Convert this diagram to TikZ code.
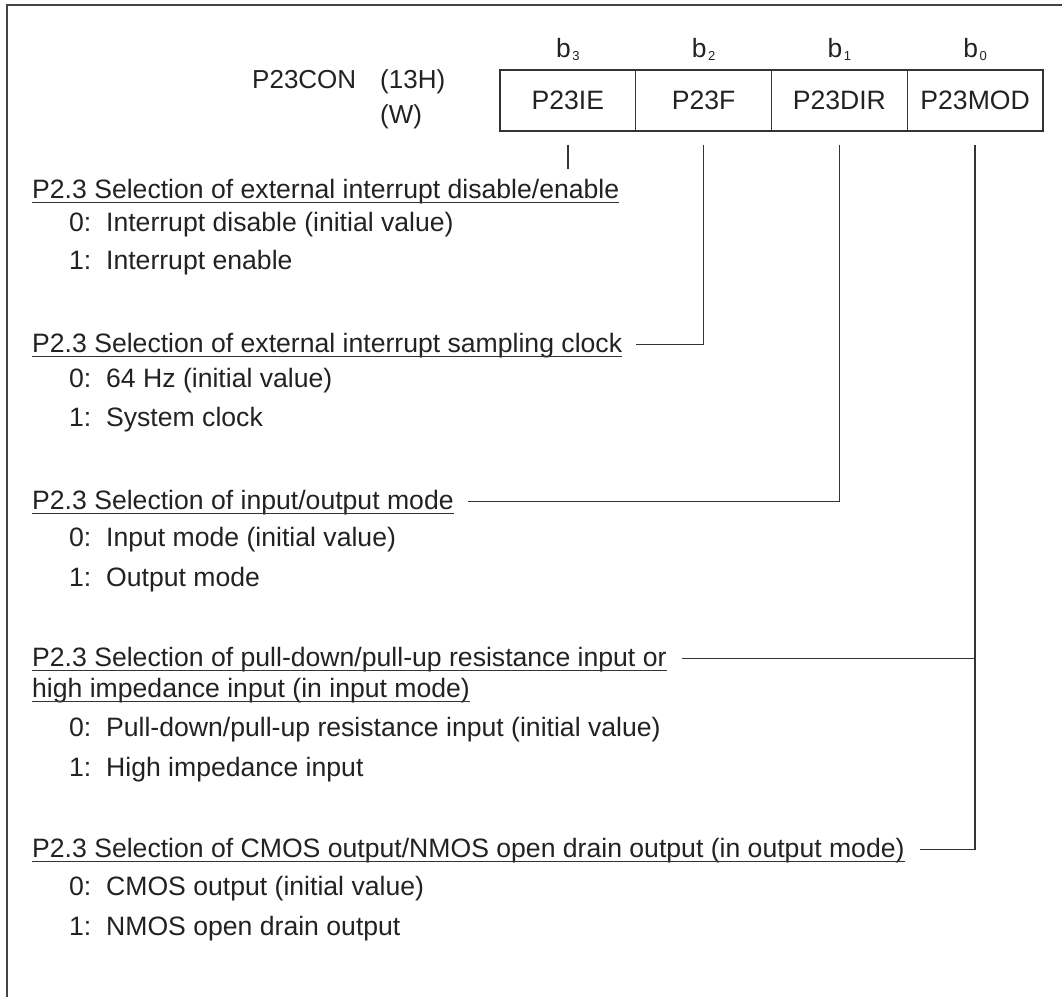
\documentclass[tikz,border=0pt]{standalone}
\usepackage{fontspec}
\setmainfont{Liberation Sans}
\usetikzlibrary{calc}
\definecolor{ink}{HTML}{222222}
\definecolor{linec}{HTML}{333333}
\definecolor{framec}{HTML}{444444}
\begin{document}
\begin{tikzpicture}[x=1pt,y=-1pt,
  txt/.style={font=\fontsize{26.6}{30}\selectfont\frenchspacing, text=ink, inner sep=0pt, anchor=base west},
  regtxt/.style={font=\fontsize{26}{30}\selectfont, text=ink, inner sep=0pt, anchor=base west},
  blab/.style={font=\fontsize{26.4}{30}\selectfont, text=ink, inner sep=0pt, anchor=base},
  cell/.style={draw=linec, line width=1.3pt, minimum width=135.75pt, minimum height=61pt, inner sep=0pt, font=\fontsize{26.6}{30}\selectfont, text=ink},
  conn/.style={draw=linec, line width=1.3pt},
  uline/.style={draw=linec, line width=1.3pt},
  frameline/.style={draw=framec, line width=2.5pt}]
\useasboundingbox (0,0) rectangle (1062,997);
\draw[frameline] (7,997) -- (7,5) -- (1062,5);

% register
\node[regtxt] (reg) at (252,88) {P23CON};
\node[regtxt] (addr) at (380,88) {(13H)};
\node[regtxt] (rw) at (380,123) {(W)};
\node[cell] (c3) at (567.875,100.5) {P23IE};
\node[cell] (c2) at (703.625,100.5) {P23F};
\node[cell] (c1) at (839.375,100.5) {P23DIR};
\node[cell] (c0) at (975.125,100.5) {P23MOD};
\newcommand{\bsub}[1]{b\hspace{1.5pt}\raisebox{-3.5pt}{\fontsize{13}{13}\selectfont #1}}
\node[blab] (b3) at (567.875,57) {\bsub{3}};
\node[blab] (b2) at (703.625,57) {\bsub{2}};
\node[blab] (b1) at (839.375,57) {\bsub{1}};
\node[blab] (b0) at (975.125,57) {\bsub{0}};

% headings and items
\node[txt] (h1) at (32,198) {P2.3 Selection of external interrupt disable/enable};
\node[txt] (i1a) at (69,231) {0:\ \ Interrupt disable (initial value)};
\node[txt] (i1b) at (69,269) {1:\ \ Interrupt enable};

\node[txt] (h2) at (32,352) {P2.3 Selection of external interrupt sampling clock};
\node[txt] (i2a) at (69,387) {0:\ \ 64 Hz (initial value)};
\node[txt] (i2b) at (69,426) {1:\ \ System clock};

\node[txt] (h3) at (32,509) {P2.3 Selection of input/output mode};
\node[txt] (i3a) at (69,546) {0:\ \ Input mode (initial value)};
\node[txt] (i3b) at (69,586) {1:\ \ Output mode};

\node[txt] (h4a) at (32,666) {P2.3 Selection of pull-down/pull-up resistance input or};
\node[txt] (h4b) at (32,697) {high impedance input (in input mode)};
\node[txt] (i4a) at (69,736) {0:\ \ Pull-down/pull-up resistance input (initial value)};
\node[txt] (i4b) at (69,776) {1:\ \ High impedance input};

\node[txt] (h5) at (32,857) {P2.3 Selection of CMOS output/NMOS open drain output (in output mode)};
\node[txt] (i5a) at (69,895) {0:\ \ CMOS output (initial value)};
\node[txt] (i5b) at (69,935) {1:\ \ NMOS open drain output};

% underlines
\foreach \n in {h1,h2,h3,h4a,h4b,h5}{
  \draw[uline] ($(\n.base west)+(0,4.5)$) -- ($(\n.base east)+(0,4.5)$);
}

% connectors
\coordinate (t3) at ($(c3.south)+(0,13)$);
\coordinate (t2) at ($(c2.south)+(0,13)$);
\coordinate (t1) at ($(c1.south)+(0,13)$);
\coordinate (t0) at ($(c0.south)+(0,13)$);
\coordinate (j2) at ($(h2.base east)+(14,-7.5)$);
\coordinate (j3) at ($(h3.base east)+(14,-7.5)$);
\coordinate (j4) at ($(h4a.base east)+(15,-7.5)$);
\coordinate (j5) at ($(h5.base east)+(15,-7.5)$);
\draw[conn] (t3) -- ++(0,24);
\draw[conn] (t2) |- (j2);
\draw[conn] (t1) |- (j3);
\draw[conn] (t0) |- (j5);
\draw[conn] (j4) -- (j4 -| t0);
\end{tikzpicture}
\end{document}
